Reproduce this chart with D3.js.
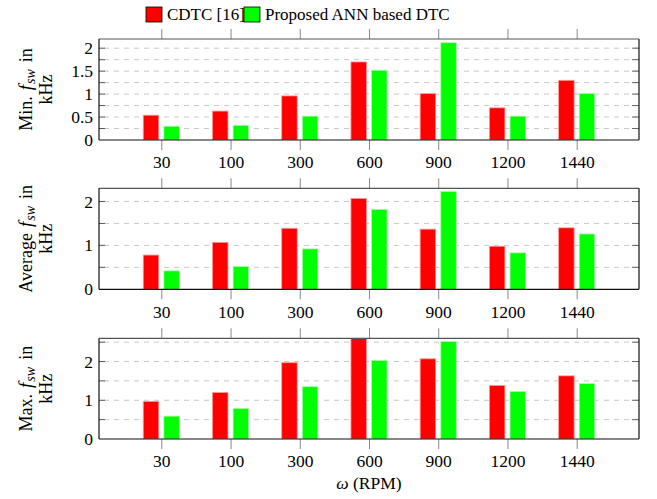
<!DOCTYPE html>
<html><head><meta charset="utf-8">
<script src="https://cdn.jsdelivr.net/npm/d3@7/dist/d3.min.js"></script>
<style>
body{margin:0;background:#fff;}
text{font-family:"Liberation Serif","DejaVu Serif",serif;fill:#000;white-space:pre;}
</style></head>
<body><svg id="c" width="657" height="499"></svg>
<script>
const categories = ["30","100","300","600","900","1200","1440"];
const seriesNames = ["CDTC [16]","Proposed ANN based DTC"];
const minCDTC = [0.54,0.63,0.96,1.70,1.01,0.70,1.30];
const minANN  = [0.30,0.32,0.52,1.52,2.12,0.52,1.01];
const avgCDTC = [0.78,1.07,1.39,2.07,1.37,0.98,1.40];
const avgANN  = [0.42,0.52,0.92,1.82,2.23,0.83,1.26];
const maxCDTC = [0.97,1.20,1.97,2.70,2.07,1.38,1.63];
const maxANN  = [0.59,0.79,1.35,2.03,2.52,1.23,1.43];
const minTicks = [0,0.5,1,1.5,2];
const avgTicks = [0,1,2];
const maxTicks = [0,1,2];
const yLabelPrefixes = ["Min.","Average","Max."];
const xLabel = "ω (RPM)";

const colors = ["#ff0000","#00ff00"];
const strokes = ["#ff9a9a","#a8ffa8"];
const svg = d3.select("#c");
const L = 99, R = 639;

const panels = [
  {top:39, bottom:140, ymax:2.2, ticks:minTicks, grid:0.25, data:[minCDTC,minANN], label:yLabelPrefixes[0]},
  {top:188.3, bottom:289.3, ymax:2.3, ticks:avgTicks, grid:0.5, data:[avgCDTC,avgANN], label:yLabelPrefixes[1]},
  {top:338.3, bottom:439, ymax:2.6, ticks:maxTicks, grid:0.5, data:[maxCDTC,maxANN], label:yLabelPrefixes[2]}
];

const x = d3.scaleLinear().domain([-0.9, categories.length - 1 + 0.9]).range([L, R]);
const barW = 15.5, off = 10.3;

panels.forEach((p, pi) => {
  const y = d3.scaleLinear().domain([0, p.ymax]).range([p.bottom, p.top]);
  const g = svg.append("g");
  const cid = "clip" + pi;
  svg.append("clipPath").attr("id", cid).append("rect")
    .attr("x", L).attr("y", p.top).attr("width", R - L).attr("height", p.bottom - p.top);

  const gridVals = d3.range(p.grid, p.ymax + 1e-6, p.grid);
  g.selectAll(".grid").data(gridVals).join("line")
    .attr("x1", L + 1).attr("x2", R - 1)
    .attr("y1", d => y(d)).attr("y2", d => y(d))
    .attr("stroke", "#c8c8c8").attr("stroke-width", 1)
    .attr("stroke-dasharray", "5,5").attr("stroke-dashoffset", -4);

  p.data.forEach((vals, si) => {
    g.append("g").attr("clip-path", `url(#${cid})`).selectAll("rect").data(vals).join("rect")
      .attr("x", (d, i) => x(i) + (si === 0 ? -off : off) - barW / 2)
      .attr("width", barW)
      .attr("y", d => y(d))
      .attr("height", d => y(0) - y(d))
      .attr("fill", colors[si])
      .attr("stroke", strokes[si]).attr("stroke-width", 0.8);
  });

  const ya = d3.axisLeft(y).tickValues(p.ticks).tickSize(0).tickPadding(6).tickFormat(d => String(d));
  const yg = g.append("g").attr("transform", `translate(${L},0)`).call(ya);
  yg.select(".domain").remove();
  yg.selectAll("text").attr("font-size", 17.5).attr("font-family", "Liberation Serif");
  g.selectAll(".tl").data(gridVals).join("line")
    .attr("x1", L).attr("x2", L + 6).attr("y1", d => y(d)).attr("y2", d => y(d))
    .attr("stroke", "#555").attr("stroke-width", 1);
  g.selectAll(".tr").data(gridVals).join("line")
    .attr("x1", R - 7).attr("x2", R).attr("y1", d => y(d)).attr("y2", d => y(d))
    .attr("stroke", "#666").attr("stroke-width", 1);

  const xa = d3.axisBottom(x).tickValues(d3.range(categories.length))
    .tickFormat(i => categories[i]).tickSize(10).tickPadding(6);
  const xg = g.append("g").attr("transform", `translate(0,${p.bottom})`).call(xa);
  xg.select(".domain").remove();
  xg.selectAll("line").attr("stroke", "#888");
  xg.selectAll("text").attr("font-size", 17.5).attr("font-family", "Liberation Serif");
  const xt = d3.axisTop(x).tickValues(d3.range(categories.length)).tickFormat("").tickSize(10);
  const xtg = g.append("g").attr("transform", `translate(0,${p.top})`).call(xt);
  xtg.select(".domain").remove();
  xtg.selectAll("line").attr("stroke", "#888");

  g.append("line").attr("x1", L).attr("x2", R).attr("y1", p.top).attr("y2", p.top).attr("stroke", "#555").attr("stroke-width", 1.2);
  g.append("line").attr("x1", R).attr("x2", R).attr("y1", p.top).attr("y2", p.bottom).attr("stroke", "#111").attr("stroke-width", 1.2);
  g.append("line").attr("x1", L).attr("x2", L).attr("y1", p.top).attr("y2", p.bottom).attr("stroke", "#111").attr("stroke-width", 1.2);
  g.append("line").attr("x1", L).attr("x2", R).attr("y1", p.bottom).attr("y2", p.bottom).attr("stroke", "#111").attr("stroke-width", 1.2);

  const cy = (p.top + p.bottom) / 2;
  const t1 = svg.append("text").attr("transform", `translate(32,${cy}) rotate(-90)`)
    .attr("text-anchor", "middle").attr("font-size", 18);
  t1.append("tspan").text(p.label);
  t1.append("tspan").attr("font-style", "italic").attr("font-size", 19).attr("dx", 6).text("f");
  t1.append("tspan").attr("font-style", "italic").attr("font-size", 14).attr("dx", 1).attr("dy", 3).text("sw");
  t1.append("tspan").attr("dy", -3).attr("dx", 7).text("in");
  svg.append("text").attr("transform", `translate(52,${cy}) rotate(-90)`)
    .attr("text-anchor", "middle").attr("font-size", 18).text("kHz");
});

svg.append("text").attr("x", (L + R) / 2).attr("y", 489).attr("text-anchor", "middle")
  .attr("font-size", 17.5).html('<tspan font-style="italic">ω</tspan> (RPM)');

const lg = svg.append("g");
const legX = [146, 244], legTextX = [167, 265];
seriesNames.forEach((n, i) => {
  lg.append("rect").attr("x", legX[i]).attr("y", 7).attr("width", 16).attr("height", 15)
    .attr("fill", colors[i]).attr("stroke", "#000").attr("stroke-width", 0.8);
  lg.append("text").attr("x", legTextX[i]).attr("y", 20).attr("font-size", 17).text(n);
});
</script></body></html>
